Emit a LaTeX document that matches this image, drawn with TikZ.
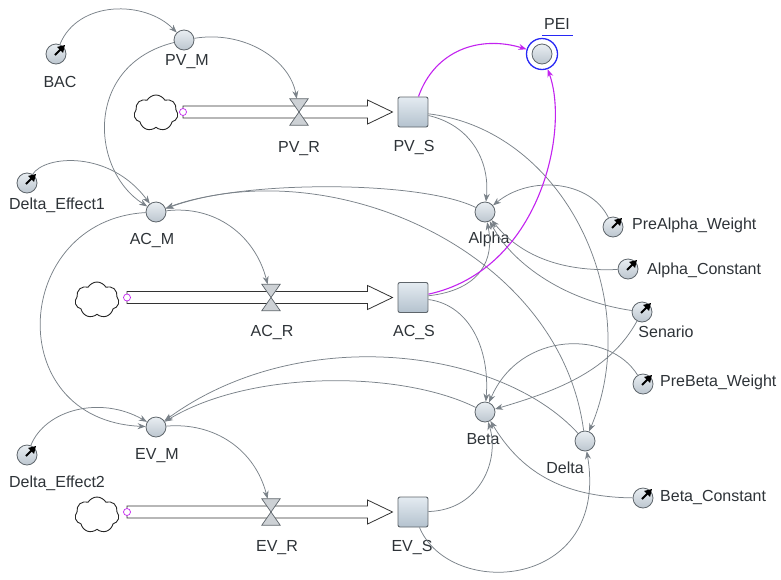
\documentclass[tikz,border=0pt]{standalone}
\usepackage{fontspec}
\setmainfont{Liberation Sans}
\usetikzlibrary{arrows.meta,calc,shapes.symbols}
\definecolor{lnk}{HTML}{7A8289}
\definecolor{mag}{RGB}{195,35,240}
\definecolor{txt}{HTML}{2E3338}
\definecolor{auxdraw}{HTML}{5E656B}
\definecolor{auxtop}{HTML}{E9EEF2}
\definecolor{auxbot}{HTML}{BCC6CF}
\definecolor{stocktop}{HTML}{E4EBF1}
\definecolor{stockbot}{HTML}{B4C2CE}
\definecolor{valvec}{HTML}{CDD1D5}
\definecolor{peiblue}{RGB}{40,40,245}
\begin{document}
\begin{tikzpicture}[x=1pt,y=-1pt,
  aux/.style={circle, draw=auxdraw, line width=0.8pt, inner sep=0pt, minimum size=20pt, top color=auxtop, bottom color=auxbot},
  stock/.style={rectangle, rounded corners=2pt, draw=auxdraw, line width=0.9pt, minimum size=30pt, inner sep=0pt, top color=stocktop, bottom color=stockbot},
  lbl/.style={font=\fontsize{16}{18}\selectfont, text=txt, inner sep=0pt, anchor=base},
  lblw/.style={lbl, anchor=base west},
  valvebox/.style={inner sep=0pt, minimum width=18pt, minimum height=26pt},
  valvefill/.style={fill=valvec, draw=auxdraw, line width=0.7pt},
  link/.style={draw=lnk, line width=0.75pt, -{Stealth[length=8pt,width=6pt]}},
  pinklink/.style={draw=mag, line width=1.1pt, -{Stealth[length=8pt,width=6pt]}},
  pipe/.style={draw=black!80, fill=white, line width=0.8pt},
  srcdot/.style={circle, draw=mag, fill=white, inner sep=0pt, minimum size=7pt, line width=0.7pt},
  cloudsh/.style={cloud, cloud puffs=7, cloud puff arc=120, cloud ignores aspect, draw=black!85, line width=0.9pt, minimum width=44pt, minimum height=36pt, inner sep=0pt, fill=white},
  ptr/.style={line width=2pt, black, -{Triangle[length=7pt,width=8pt]}}
]
\useasboundingbox (0,0) rectangle (781,579);
\fill[white] (0,0) rectangle (781,579);

% ---- stocks
\node[stock] (pvs) at (413,112) {};
\node[stock] (acs) at (413,297.5) {};
\node[stock] (evs) at (413,512) {};

% ---- clouds and source dots
\node[cloudsh] (pvc) at (156,113) {};
\node[cloudsh] (acc) at (97,300) {};
\node[cloudsh] (evc) at (97,515) {};
\coordinate (pvd) at (183,112);
\coordinate (acd) at (127,297.5);
\coordinate (evd) at (127,512);

% ---- pipes
\foreach \src/\dst in {pvd/pvs, acd/acs, evd/evs}{
  \draw[pipe] ($(\src)+(0,-6)$) -- ($(\dst.west)+(-30,-6)$) -- ($(\dst.west)+(-30,-12)$) -- ($(\dst.west)+(-5,0)$)
     -- ($(\dst.west)+(-30,12)$) -- ($(\dst.west)+(-30,6)$) -- ($(\src)+(0,6)$) -- cycle;
}
\node[srcdot] (pvdot) at (pvd) {};
\node[srcdot] (acdot) at (acd) {};
\node[srcdot] (evdot) at (evd) {};

% ---- valves
\node[valvebox] (pvr) at (299,112) {};
\node[valvebox] (acr) at (271,297.5) {};
\node[valvebox] (evr) at (271,512) {};
\foreach \v in {pvr, acr, evr}{
  \draw[valvefill] (\v.north west) -- (\v.north east) -- (\v.center) -- cycle;
  \draw[valvefill] (\v.south west) -- (\v.south east) -- (\v.center) -- cycle;
}

% ---- auxiliaries
\node[aux] (pvm) at (184,40) {};
\node[aux] (acm) at (156,212) {};
\node[aux] (evm) at (156,427) {};
\node[aux] (alpha) at (485,212) {};
\node[aux] (beta) at (485,412) {};
\node[aux] (delta) at (585,441) {};
\node[circle, draw=peiblue, line width=1.3pt, minimum size=31pt, inner sep=0pt] (peiring) at (542,54) {};
\node[aux] (pei) at (542,54) {};

% ---- constants
\node[aux] (bac) at (56,54) {};
\node[aux] (de1) at (27,183) {};
\node[aux] (de2) at (27,455) {};
\node[aux] (paw) at (613,227) {};
\node[aux] (alc) at (628,269) {};
\node[aux] (sen) at (642,312) {};
\node[aux] (pbw) at (643,384) {};
\node[aux] (bc) at (643,498) {};
\foreach \c in {bac,de1,de2,paw,alc,sen,pbw,bc}{
  \draw[ptr] ($(\c.center)+(-1,1)$) -- ($(\c.center)+(9,-9)$);
}

% ---- labels
\node[lbl] (lbac) at (60,87) {BAC};
\node[lbl] (lpvm) at (187,65) {PV\_M};
\node[lbl] (lpvr) at (299,152) {PV\_R};
\node[lbl] (lpvs) at (414,151) {PV\_S};
\node[lbl] (lpei) at (557,29) {PEI};
\draw[peiblue, line width=0.9pt] (542,35) -- (573,35);
\node[lbl] (lde1) at (57,209) {Delta\_Effect1};
\node[lbl] (lacm) at (152,244) {AC\_M};
\node[lbl] (lalpha) at (489,243) {Alpha};
\node[lblw] (lpaw) at (632,229) {PreAlpha\_Weight};
\node[lblw] (lalc) at (647,274) {Alpha\_Constant};
\node[lbl] (lsen) at (666,337) {Senario};
\node[lblw] (lpbw) at (660,386) {PreBeta\_Weight};
\node[lbl] (lacr) at (272,336) {AC\_R};
\node[lbl] (lacs) at (414,336) {AC\_S};
\node[lbl] (levm) at (157,459) {EV\_M};
\node[lbl] (lde2) at (57,487) {Delta\_Effect2};
\node[lbl] (lbeta) at (483,444) {Beta};
\node[lbl] (ldelta) at (565,473) {Delta};
\node[lblw] (lbc) at (660,501) {Beta\_Constant};
\node[lbl] (levr) at (277,551) {EV\_R};
\node[lbl] (levs) at (412,551) {EV\_S};

% ---- links
\draw[link] (bac) .. controls (78,0) and (145,0) .. (pvm);
\draw[link] (pvm) .. controls (245,30) and (290,60) .. (pvr);
\draw[link] (pvm) .. controls (84,65) and (90,170) .. (acm);
\draw[link] (de1) .. controls (45,155) and (110,150) .. (acm);
\draw[link] (acm) .. controls (215,205) and (255,235) .. (acr);
\draw[link] (acm) .. controls (12,220) and (0,420) .. (evm);
\draw[link] (de2) .. controls (45,410) and (100,395) .. (evm);
\draw[link] (evm) .. controls (215,422) and (255,450) .. (evr);
\draw[link] (alpha) .. controls (420,180) and (240,180) .. (acm);
\draw[link] (delta) .. controls (560,250) and (330,150) .. (acm);
\draw[link] (delta) .. controls (500,348) and (300,322) .. (evm);
\draw[link] (beta) .. controls (400,370) and (250,370) .. (evm);
\draw[link] (pvs) .. controls (470,125) and (490,160) .. (alpha);
\draw[link] (paw) .. controls (590,180) and (530,175) .. (alpha);
\draw[link] (acs) .. controls (480,290) and (495,260) .. (alpha);
\draw[link] (alc) .. controls (560,272) and (520,255) .. (alpha);
\draw[link] (sen) .. controls (560,300) and (510,260) .. (alpha);
\draw[link] (pvs) .. controls (565,130) and (645,300) .. (delta);
\draw[link] (evs) .. controls (450,600) and (610,590) .. (delta);
\draw[link] (acs) .. controls (470,305) and (490,350) .. (beta);
\draw[link] (pbw) .. controls (610,330) and (520,330) .. (beta);
\draw[link] (sen) .. controls (610,370) and (560,390) .. (beta);
\draw[link] (evs) .. controls (480,510) and (500,460) .. (beta);
\draw[link] (bc) .. controls (560,497) and (520,470) .. (beta);
\draw[pinklink] (pvs) .. controls (435,50) and (480,35) .. (peiring);
\draw[pinklink] (acs) .. controls (540,270) and (570,130) .. (peiring);
\end{tikzpicture}
\end{document}
